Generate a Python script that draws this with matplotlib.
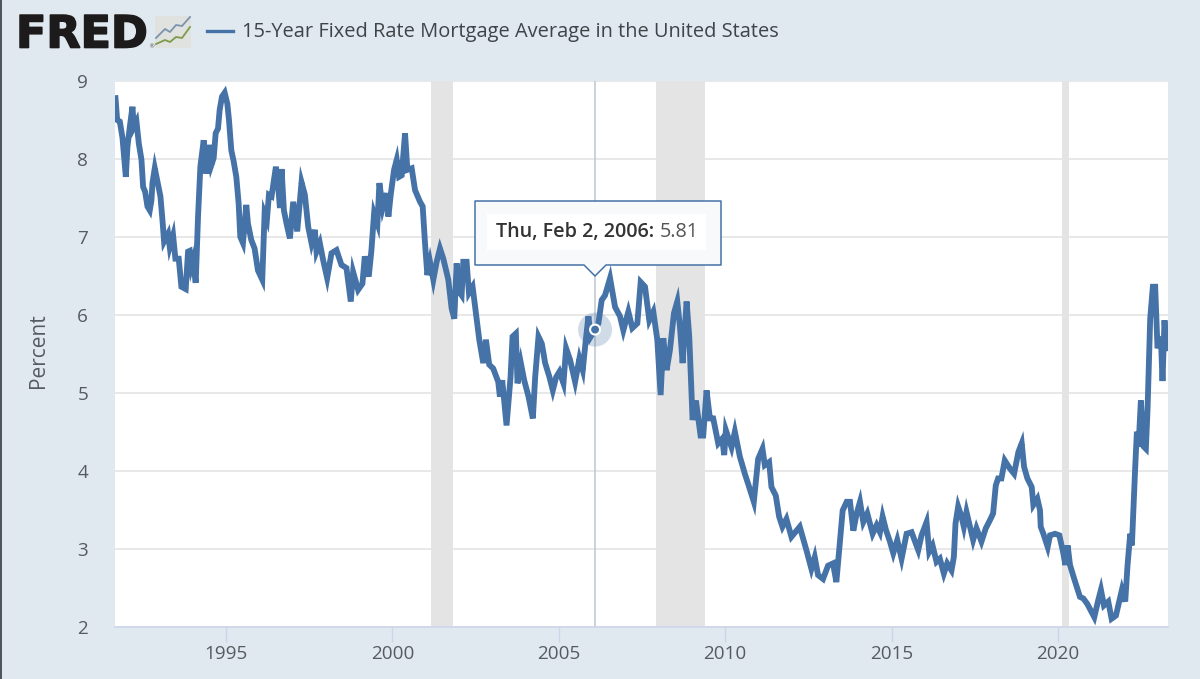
# plot.py
import matplotlib
matplotlib.use('Agg')
import matplotlib.pyplot as plt
import matplotlib.patheffects as pe
from matplotlib.patches import Circle, Polygon, Rectangle

years=[1991.68,1991.73,1991.81,1991.89,1991.99,1992.04,1992.11,1992.19,1992.23,1992.31,1992.38,1992.46,1992.51,1992.57,1992.64,1992.71,1992.76,1992.79,1992.86,1992.93,
1993.03,1993.09,1993.14,1993.26,1993.31,1993.41,1993.48,1993.58,1993.66,1993.79,1993.86,1993.91,1993.96,1994.01,1994.09,1994.16,1994.23,1994.33,1994.41,1994.49,
1994.56,1994.63,1994.69,1994.76,1994.81,1994.88,1994.96,1995.04,1995.09,1995.16,1995.23,1995.31,1995.38,1995.43,1995.51,1995.61,1995.66,1995.76,1995.86,1995.96,
1996.09,1996.16,1996.23,1996.29,1996.37,1996.5,1996.57,1996.62,1996.67,1996.74,1996.82,1996.92,1997.02,1997.14,1997.27,1997.37,1997.47,1997.57,1997.67,1997.72,
1997.82,1997.92,1998.04,1998.17,1998.32,1998.47,1998.62,1998.75,1998.82,1998.97,1999.1,1999.17,1999.29,1999.37,1999.45,1999.55,1999.61,1999.71,1999.83,1999.88,
1999.95,2000.05,2000.13,2000.2,2000.28,2000.38,2000.45,2000.58,2000.68,2000.83,2000.91,2000.98,2001.05,2001.13,2001.23,2001.33,2001.43,2001.53,2001.68,2001.78,
2001.86,2001.93,2002.0,2002.08,2002.13,2002.23,2002.3,2002.41,2002.51,2002.61,2002.73,2002.81,2002.91,2003.03,2003.18,2003.23,2003.3,2003.43,2003.55,2003.61,
2003.71,2003.76,2003.86,2003.96,2004.09,2004.22,2004.29,2004.39,2004.49,2004.59,2004.72,2004.82,2004.92,2005.02,2005.14,2005.22,2005.34,2005.49,2005.62,2005.72,
2005.8,2005.89,2005.96,2006.09,2006.19,2006.29,2006.39,2006.54,2006.69,2006.84,2006.94,2007.09,2007.21,2007.36,2007.46,2007.59,2007.72,2007.84,2007.96,2008.06,
2008.14,2008.24,2008.34,2008.46,2008.56,2008.64,2008.72,2008.84,2008.92,2009.02,2009.12,2009.26,2009.34,2009.44,2009.54,2009.64,2009.79,2009.91,2009.97,2010.02,
2010.19,2010.29,2010.44,2010.59,2010.72,2010.86,2010.99,2011.12,2011.19,2011.32,2011.39,2011.52,2011.62,2011.72,2011.84,2011.99,2012.24,2012.44,2012.59,2012.69,
2012.79,2012.94,2013.09,2013.24,2013.34,2013.44,2013.53,2013.65,2013.75,2013.85,2013.95,2014.05,2014.15,2014.27,2014.43,2014.55,2014.65,2014.73,2014.83,2014.95,
2015.05,2015.17,2015.3,2015.45,2015.6,2015.8,2015.9,2016.05,2016.13,2016.23,2016.35,2016.45,2016.57,2016.67,2016.8,2016.87,2016.92,2017.0,2017.1,2017.17,
2017.25,2017.45,2017.55,2017.7,2017.83,2017.95,2018.05,2018.13,2018.2,2018.3,2018.4,2018.55,2018.68,2018.81,2018.91,2018.98,2019.08,2019.21,2019.26,2019.38,
2019.46,2019.48,2019.56,2019.69,2019.76,2019.91,2020.04,2020.16,2020.22,2020.29,2020.36,2020.48,2020.66,2020.76,2020.88,2021.09,2021.21,2021.29,2021.38,2021.51,
2021.61,2021.74,2021.92,2022.02,2022.09,2022.17,2022.22,2022.32,2022.37,2022.42,2022.49,2022.57,2022.64,2022.69,2022.77,2022.85,2022.92,2022.99,2023.09,2023.14,
2023.2,2023.25]
rates=[8.78,8.50,8.48,8.27,7.77,8.16,8.41,8.67,8.41,8.48,8.2,7.99,7.64,7.58,7.39,7.34,7.47,7.69,7.88,7.73,
7.52,7.22,6.94,7.04,6.87,7.02,6.72,6.72,6.36,6.33,6.81,6.82,6.62,6.70,6.41,7.26,7.9,8.24,7.81,8.18,
7.92,8.01,8.33,8.39,8.63,8.80,8.85,8.71,8.5,8.11,7.97,7.77,7.43,7.0,6.92,7.41,7.17,6.96,6.85,6.57,
6.45,7.3,7.22,7.54,7.52,7.9,7.64,7.37,7.87,7.34,7.17,6.98,7.45,7.07,7.7,7.54,7.13,6.92,7.09,6.81,
6.92,6.70,6.47,6.79,6.83,6.64,6.60,6.17,6.55,6.32,6.40,6.75,6.49,6.83,7.30,7.17,7.69,7.37,7.56,7.26,
7.54,7.86,7.99,7.77,7.79,8.33,7.86,7.88,7.6,7.45,7.39,6.92,6.51,6.68,6.45,6.68,6.85,6.72,6.45,6.08,
5.95,6.66,6.3,6.25,6.68,6.68,6.28,6.36,6.02,5.68,5.38,5.68,5.36,5.31,5.14,4.95,5.16,4.58,5.2,5.72,
5.76,5.12,5.38,5.16,4.95,4.67,5.2,5.72,5.63,5.38,5.2,5.03,5.2,5.27,5.12,5.57,5.42,5.14,5.44,5.29,
5.63,5.98,5.72,5.81,5.89,6.19,6.25,6.47,6.1,5.98,5.8,6.04,5.83,5.89,6.42,6.36,5.93,6.04,5.68,4.97,
5.7,5.29,5.55,6.02,6.17,5.85,5.38,6.17,5.72,4.65,4.9,4.45,4.45,5.03,4.67,4.67,4.35,4.41,4.2,4.52,
4.3,4.5,4.18,3.96,3.79,3.6,4.15,4.28,4.07,4.11,3.79,3.68,3.41,3.28,3.38,3.15,3.28,2.98,2.74,2.89,
2.66,2.61,2.78,2.81,2.57,3.06,3.49,3.6,3.6,3.23,3.45,3.6,3.34,3.45,3.19,3.3,3.21,3.41,3.24,3.09,
2.94,3.11,2.87,3.19,3.21,2.98,3.17,3.34,2.96,3.04,2.83,2.87,2.68,2.81,2.72,2.89,3.32,3.54,3.41,3.28,
3.47,3.11,3.26,3.09,3.26,3.36,3.45,3.81,3.9,3.9,4.13,4.03,3.96,4.24,4.35,4.05,3.9,3.79,3.56,3.64,
3.49,3.28,3.19,3.02,3.17,3.19,3.17,2.94,2.79,3.04,2.79,2.62,2.38,2.36,2.29,2.12,2.34,2.47,2.27,2.32,
2.1,2.14,2.47,2.32,2.79,3.19,3.04,4.05,4.5,4.31,4.9,4.31,4.28,4.78,5.95,6.36,6.36,5.57,5.72,5.15,
5.93,5.57]
x_ticks=[1995,2000,2005,2010,2015,2020]
y_ticks=[2,3,4,5,6,7,8,9]
rec_start=[2001.17,2007.92,2020.12]
rec_end=[2001.83,2009.40,2020.33]
hover_year=2006.09
hover_rate=5.81

BG='#e1e9f0'
BLUE='#4572a7'
TXT='#555b61'
W,H=1200,679
fig=plt.figure(figsize=(12,6.79),dpi=100,facecolor=BG)
plt.rcParams['font.family']=['Open Sans','DejaVu Sans']

L,R,T,B=114.5,1167.5,81,626.5
ax=fig.add_axes([L/W,1-B/H,(R-L)/W,(B-T)/H])
ax.set_xlim(1991.65,2023.29)
ax.set_ylim(2,9)
for s in ['top','right','left']:
    ax.spines[s].set_visible(False)
ax.spines['bottom'].set_color('#ccd6eb')
ax.spines['bottom'].set_linewidth(1.2)
ax.set_xticks(x_ticks)
ax.set_yticks(y_ticks)
ax.tick_params(axis='x',length=10.5,width=1,color='#ccd6eb',labelcolor=TXT,labelsize=13.6,pad=3)
ax.tick_params(axis='y',length=0,labelcolor=TXT,labelsize=13.6,pad=19)
ax.grid(axis='y',color='#e6e6e6',lw=1.3)
ax.set_axisbelow(True)
ax.set_ylabel('Percent',color=TXT,fontsize=15,labelpad=20,y=0.505)
for a,b in zip(rec_start,rec_end):
    ax.axvspan(a,b,color='#e4e4e4',lw=0,zorder=1)
ax.axvline(hover_year,color='#c4cbd2',lw=1.2,zorder=2)
ax.plot(years,rates,color=BLUE,lw=4.2,solid_joinstyle='miter',zorder=3,clip_on=True)

# overlay in pixels for tooltip, logo and legend
ov=fig.add_axes([0,0,1,1],facecolor='none')
ov.set_xlim(0,W)
ov.set_ylim(H,0)
ov.axis('off')
ov.add_patch(Rectangle((0,0),1.5,H,color='#50565c',lw=0))

hx=L+(hover_year-1991.65)/(2023.29-1991.65)*(R-L)
hy=B-(hover_rate-2)/7*(B-T)
ov.add_patch(Circle((hx,hy),17,color=BLUE,alpha=0.25,lw=0))
ov.add_patch(Circle((hx,hy),5,facecolor=BLUE,edgecolor='white',lw=1.5))

tip=[(475,201),(721,201),(721,265),(606,265),(595,276),(584,265),(475,265)]
ov.add_patch(Polygon(tip,closed=True,facecolor='#f7f9fb',edgecolor=BLUE,lw=1.1,joinstyle='round'))
ov.add_patch(Rectangle((487,214),219,36,color='white',lw=0))
ov.text(496,232,'Thu, Feb 2, 2006:',color='#333333',fontsize=14.2,fontweight='semibold',va='center',ha='left')
ov.text(660,232,'5.81',color='#555555',fontsize=14.2,va='center',ha='left')

ov.text(16,35,'FRED',color='#1c1a1a',fontsize=32,fontweight='bold',family='DejaVu Sans',va='center',ha='left',
    path_effects=[pe.withStroke(linewidth=1.2,foreground='#1c1a1a')])
ov.text(151,47,'\u00ae',color='#555555',fontsize=4.5,family='DejaVu Sans',va='center',ha='center')
ov.add_patch(Rectangle((155,16),36,32,color='#dfe2df',lw=0))
icon_x=[156,165,170,176,182,190]
ov.plot(icon_x,[38,29,32,25,26,17],color='#7c93ad',lw=1.3)
ov.plot(icon_x,[44,40,42,37,38,27],color='#7f9a4a',lw=1.3)

ov.plot([207,233],[31,31],color=BLUE,lw=2.4)
ov.text(242,32,'15-Year Fixed Rate Mortgage Average in the United States',color='#3f4448',fontsize=14.45,va='center',ha='left')

fig.savefig('out.png',dpi=100,facecolor=BG)
